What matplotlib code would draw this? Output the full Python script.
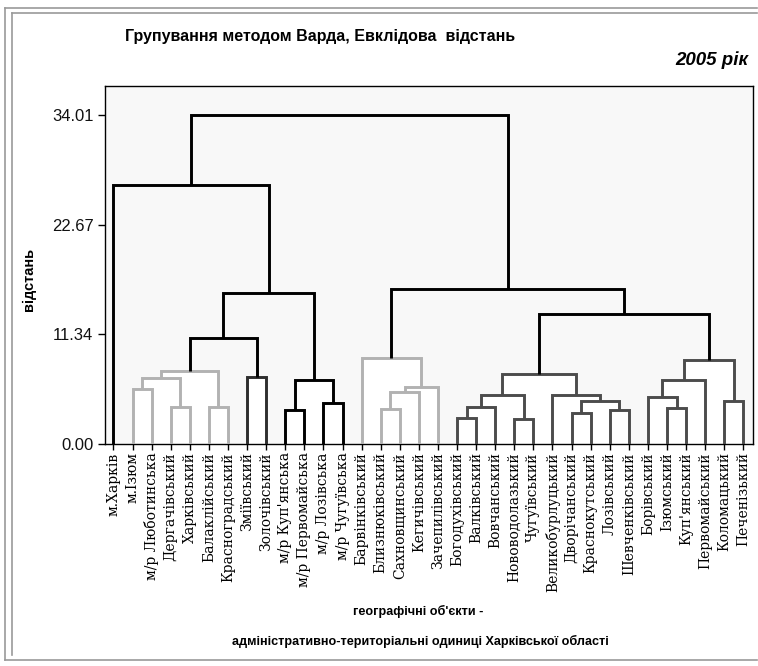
import matplotlib
matplotlib.use('Agg')
import matplotlib.pyplot as plt
from matplotlib.patches import Rectangle
from matplotlib.lines import Line2D

# ---------------- data ----------------
leaf_labels = [
    "м.Харків", "м.Ізюм", "м/р Люботинська", "Дергачівський", "Харківський",
    "Балаклійський", "Красноградський", "Зміївський", "Золочівський",
    "м/р Куп'янська", "м/р Первомайська", "м/р Лозівська", "м/р Чугуївська",
    "Барвінківський", "Близнюківський", "Сахновщинський", "Кегичівський",
    "Зачепилівський", "Богодухівський", "Валківський", "Вовчанський",
    "Нововодолазький", "Чугуївський", "Великобурлуцький", "Дворічанський",
    "Краснокутський", "Лозівський", "Шевченківський", "Борівський",
    "Ізюмський", "Куп'янський", "Первомайський", "Коломацький", "Печенізький",
]
# merges: node id = 34 + row index
merge_a = [1, 3, 34, 5, 36, 7, 38, 9, 11, 41, 40, 0,
           14, 46, 47, 13, 18, 50, 21, 51, 24, 26, 54, 23, 53, 29, 28, 60, 32, 61, 58, 49, 45]
merge_b = [2, 4, 35, 6, 37, 8, 39, 10, 12, 42, 43, 44,
           15, 16, 17, 48, 19, 20, 22, 52, 25, 27, 55, 56, 57, 30, 59, 31, 33, 62, 63, 64, 65]
merge_h = [5.69, 3.79, 6.82, 3.79, 7.58, 6.89, 10.95, 3.53, 4.21, 6.62, 15.59, 26.72,
           3.63, 5.41, 5.86, 8.85, 2.70, 3.79, 2.56, 5.07, 3.21, 3.53, 4.41, 5.05, 7.20,
           3.69, 4.82, 6.62, 4.48, 8.68, 13.40, 16.06, 34.01]
merge_grp = ["g", "g", "g", "g", "g", "z", "k", "k", "k", "k", "k", "k",
             "g", "g", "g", "g", "d", "d", "d", "d", "d", "d", "d", "d", "d",
             "d", "d", "d", "d", "d", "k", "k", "k"]
y_ticks = [0.00, 11.34, 22.67, 34.01]
y_tick_labels = ["0.00", "11.34", "22.67", "34.01"]

colors = {"g": "#b2b2b2", "d": "#4c4c4c", "k": "#000000", "z": "#2e2e2e"}

W, H = 758, 666
fig = plt.figure(figsize=(W / 100, H / 100), dpi=100)
fig.patch.set_facecolor("white")

def fx(px):
    return px / W

def fy(py):
    return 1 - py / H

ax = fig.add_axes([fx(104.5), fy(444), (752.5 - 104.5) / W, (444 - 86) / H])
ax.set_facecolor("#f8f8f8")

n = len(leaf_labels)
xpos = {i: float(i) for i in range(n)}
hpos = {i: 0.0 for i in range(n)}
for k, (a, b, h, g) in enumerate(zip(merge_a, merge_b, merge_h, merge_grp)):
    xa, xb = xpos[a], xpos[b]
    ha, hb = hpos[a], hpos[b]
    if h < 9:
        ax.add_patch(Rectangle((xa, 0), xb - xa, h, facecolor="white",
                               edgecolor="none", zorder=1))
    ax.plot([xa, xa, xb, xb], [ha, h, h, hb], color=colors[g], lw=2.1,
            solid_joinstyle="miter", solid_capstyle="butt", zorder=3)
    xpos[n + k] = (xa + xb) / 2
    hpos[n + k] = h

ax.set_xlim(-0.47, 33.48)
ax.set_ylim(0, 37.0)

for s in ax.spines.values():
    s.set_color("black")
    s.set_linewidth(1.0)

ax.set_xticks(range(n))
ax.set_xticklabels(leaf_labels, rotation=90, family="DejaVu Serif", fontsize=10)
ax.tick_params(axis="x", direction="out", length=4, width=1, pad=2)
ax.set_yticks(y_ticks)
ax.set_yticklabels(y_tick_labels, family="Liberation Sans", fontsize=12, color="#111111")
ax.tick_params(axis="y", direction="out", length=5, width=1, pad=3)

fig.text(fx(29), fy(279), "відстань", rotation=90, ha="center", va="center",
         family="Liberation Sans", fontweight="bold", fontsize=10.5)

fig.text(fx(320), fy(37), "Групування методом Варда, Евклідова  відстань",
         ha="center", va="center", fontsize=11.5, fontweight="bold",
         family="Liberation Sans")
fig.text(fx(748), fy(60), "2005 рік", ha="right", va="center", fontsize=13.5,
         fontweight="bold", style="italic", family="Liberation Sans")

fig.text(fx(418), fy(611), "географічні об'єкти -", ha="center", va="center",
         fontsize=9.1, fontweight="bold", family="Liberation Sans")
fig.text(fx(420), fy(641), "адміністративно-територіальні одиниці Харківської області",
         ha="center", va="center", fontsize=9.1, fontweight="bold", family="Liberation Sans")

# outer double frame
fc = "#9a9a9a"
for (x0, y0, x1, y1) in [(5, 8, 757, 660), (12, 13, 757, 655)]:
    fig.add_artist(Line2D([fx(x0), fx(x0)], [fy(y0), fy(y1)], color=fc, lw=1.2))
    fig.add_artist(Line2D([fx(x0), fx(x1)], [fy(y0), fy(y0)], color=fc, lw=1.2))
fig.add_artist(Line2D([fx(5), fx(757)], [fy(660), fy(660)], color=fc, lw=1.2))

fig.savefig("out.png", dpi=100)
